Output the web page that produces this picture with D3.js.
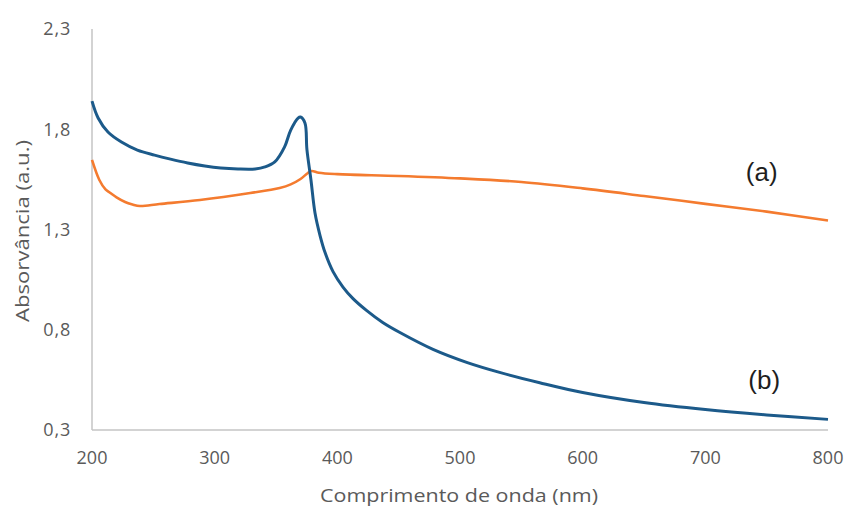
<!DOCTYPE html>
<html>
<head>
<meta charset="utf-8">
<script src="https://cdn.jsdelivr.net/npm/d3@7"></script>
<style>
  html, body { margin: 0; padding: 0; background: #fff; }
  svg text { font-family: "Open Sans", "Liberation Sans", sans-serif; }
  svg text.series-label { font-family: "Liberation Sans", Arial, sans-serif; }
</style>
</head>
<body>
<svg id="chart" width="845" height="508"></svg>
<script>
// Wavelength (nm) and absorbance readings for the two spectra
const wavelengthA = [200, 206, 211, 215, 220, 227, 233, 239, 255, 288, 329, 353, 362, 370, 376, 379, 385, 400, 450, 500, 550, 600, 650, 700, 750, 800];
const absorbanceA = [1.647, 1.547, 1.50, 1.482, 1.46, 1.437, 1.425, 1.417, 1.427, 1.447, 1.482, 1.507, 1.525, 1.552, 1.582, 1.592, 1.583, 1.576, 1.567, 1.555, 1.537, 1.505, 1.467, 1.428, 1.389, 1.345];

const wavelengthB = [200, 205, 213, 224, 237, 251, 264, 278, 292, 305, 319, 333, 341, 349, 357, 362, 368, 370, 373.6, 375.2, 378.5, 381.8, 385.9, 390, 396.5, 404.6, 412.8, 424, 437, 451, 478, 506, 533, 565, 600, 650, 700, 750, 800];
const absorbanceB = [1.94, 1.856, 1.786, 1.736, 1.696, 1.671, 1.651, 1.632, 1.617, 1.607, 1.602, 1.602, 1.612, 1.637, 1.712, 1.796, 1.856, 1.861, 1.831, 1.70, 1.547, 1.382, 1.27, 1.185, 1.09, 1.013, 0.955, 0.895, 0.836, 0.786, 0.702, 0.636, 0.586, 0.536, 0.487, 0.437, 0.402, 0.375, 0.353];

const xTicks = [200, 300, 400, 500, 600, 700, 800];
const yTicks = [0.3, 0.8, 1.3, 1.8, 2.3];
const seriesLabels = ["(a)", "(b)"];
const xTitle = "Comprimento de onda (nm)";
const yTitle = "Absorvância (a.u.)";

const svg = d3.select("#chart");
const plotLeft = 92, plotRight = 828, plotTop = 29, plotBottom = 430;

const x = d3.scaleLinear().domain([200, 800]).range([plotLeft, plotRight]);
const y = d3.scaleLinear().domain([0.3, 2.3]).range([plotBottom, plotTop]);

// axis lines
svg.append("line").attr("x1", plotLeft).attr("x2", plotLeft).attr("y1", plotTop).attr("y2", plotBottom)
  .attr("stroke", "#c4c4c4").attr("stroke-width", 1.5);
svg.append("line").attr("x1", plotLeft).attr("x2", plotRight).attr("y1", plotBottom).attr("y2", plotBottom)
  .attr("stroke", "#c4c4c4").attr("stroke-width", 1.5);

const fmt = d => d.toFixed(1).replace(".", ",");

// y tick labels
svg.append("g").selectAll("text").data(yTicks).join("text")
  .attr("x", plotLeft - 21).attr("y", d => y(d)).attr("dy", "0.35em")
  .attr("text-anchor", "end").attr("fill", "#5a5a5a").attr("font-size", 18)
  .attr("letter-spacing", 0.8)
  .text(fmt);

// x tick labels
svg.append("g").selectAll("text").data(xTicks).join("text")
  .attr("x", d => x(d)).attr("y", plotBottom + 28).attr("dy", "0.35em")
  .attr("text-anchor", "middle").attr("fill", "#5a5a5a").attr("font-size", 18)
  .text(d => d);

// axis titles
svg.append("text").attr("x", 320).attr("y", 502)
  .attr("fill", "#5a5a5a").attr("font-size", 18)
  .attr("textLength", 278).attr("lengthAdjust", "spacingAndGlyphs")
  .text(xTitle);
svg.append("text").attr("transform", `translate(29,322) rotate(-90)`)
  .attr("fill", "#5a5a5a").attr("font-size", 18)
  .attr("textLength", 182).attr("lengthAdjust", "spacingAndGlyphs")
  .text(yTitle);

const line = d3.line().x(d => x(d[0])).y(d => y(d[1])).curve(d3.curveCatmullRom.alpha(0.5));

svg.append("path").datum(d3.zip(wavelengthA, absorbanceA))
  .attr("d", line).attr("fill", "none").attr("stroke", "#f47b2f")
  .attr("stroke-width", 2.6).attr("stroke-linejoin", "round");

svg.append("path").datum(d3.zip(wavelengthB, absorbanceB))
  .attr("d", line).attr("fill", "none").attr("stroke", "#1c5a8a")
  .attr("stroke-width", 3).attr("stroke-linejoin", "round");

// series labels
svg.append("text").attr("class", "series-label")
  .attr("x", x(746)).attr("y", y(1.587)).attr("dy", "0.35em")
  .attr("text-anchor", "middle").attr("fill", "#1e1e1e").attr("font-size", 26)
  .text(seriesLabels[0]);
svg.append("text").attr("class", "series-label")
  .attr("x", x(748)).attr("y", y(0.55)).attr("dy", "0.35em")
  .attr("text-anchor", "middle").attr("fill", "#1e1e1e").attr("font-size", 26)
  .text(seriesLabels[1]);
</script>
</body>
</html>
